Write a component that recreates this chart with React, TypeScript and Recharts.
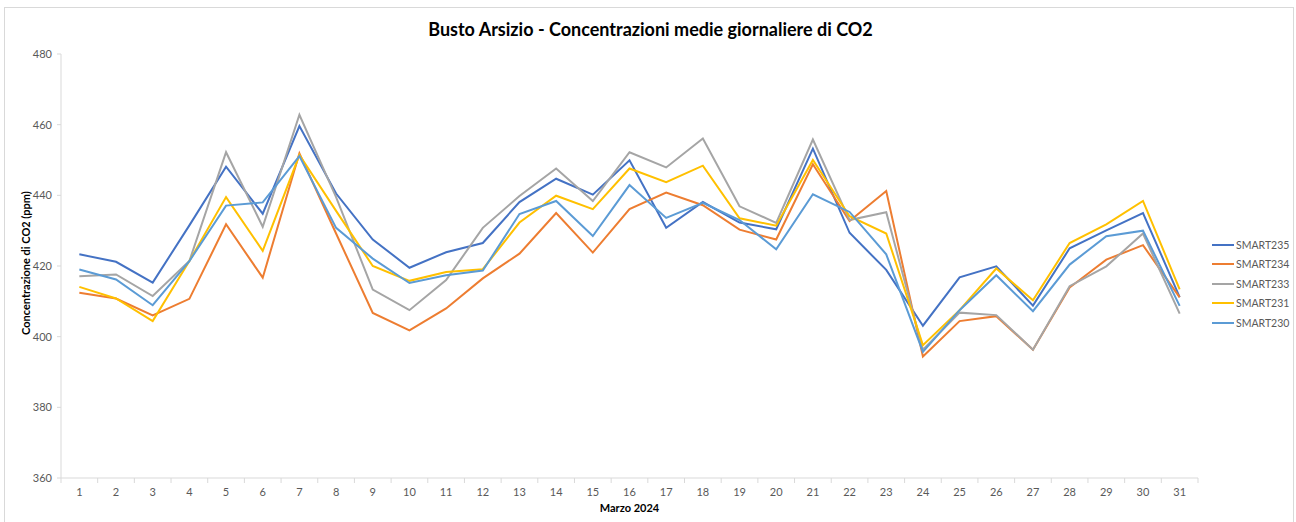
import React from 'react';
import { LineChart, Line, XAxis, YAxis } from 'recharts';

// Giorni di marzo 2024
const DAYS = [
  1, 2, 3, 4, 5, 6, 7, 8, 9, 10, 11, 12, 13, 14, 15, 16,
  17, 18, 19, 20, 21, 22, 23, 24, 25, 26, 27, 28, 29, 30, 31,
];

// Concentrazioni medie giornaliere (ppm)
const SMART235 = [
  423.3, 421.2, 415.3, 431.5, 448.1, 434.8, 459.6, 440.5, 427.5, 419.5, 423.9,
  426.5, 438.1, 444.7, 440.2, 449.9, 430.8, 438.1, 432.3, 430.4, 453.2, 429.4,
  418.9, 403.1, 416.8, 419.9, 408.8, 425.0, 430.1, 435.0, 411.2,
];
const SMART234 = [
  412.4, 410.8, 406.0, 410.7, 431.8, 416.7, 451.9, 429.2, 406.7, 401.8, 408.0,
  416.5, 423.5, 435.0, 423.8, 436.1, 440.8, 437.2, 430.3, 427.5, 448.8, 432.7,
  441.2, 394.4, 404.4, 405.8, 396.3, 413.9, 421.8, 425.9, 411.1,
];
const SMART233 = [
  417.1, 417.6, 411.5, 421.4, 452.2, 431.1, 462.8, 439.5, 413.3, 407.5, 416.0,
  430.8, 439.8, 447.6, 438.4, 452.2, 447.9, 456.1, 436.9, 432.2, 455.8, 433.0,
  435.2, 396.3, 406.8, 406.1, 396.3, 414.3, 419.9, 429.2, 406.5,
];
const SMART231 = [
  414.1, 410.8, 404.4, 421.4, 439.5, 424.3, 451.4, 435.6, 420.0, 415.8, 418.3,
  419.1, 432.3, 439.9, 436.1, 447.6, 443.7, 448.4, 433.5, 431.4, 450.0, 434.1,
  429.2, 397.6, 407.5, 419.3, 410.3, 426.5, 431.8, 438.4, 413.4,
];
const SMART230 = [
  419.0, 416.2, 408.9, 421.4, 437.1, 438.0, 451.1, 430.8, 422.1, 415.2, 417.4,
  418.7, 434.7, 438.4, 428.5, 442.9, 433.6, 437.9, 433.0, 424.7, 440.3, 435.3,
  423.3, 395.7, 407.5, 417.4, 407.2, 420.4, 428.4, 430.0, 408.7,
];

const Y_TICKS = [360, 380, 400, 420, 440, 460, 480];

const SERIES = [
  { key: 'SMART235', color: '#4472C4', values: SMART235 },
  { key: 'SMART234', color: '#ED7D31', values: SMART234 },
  { key: 'SMART233', color: '#A5A5A5', values: SMART233 },
  { key: 'SMART231', color: '#FFC000', values: SMART231 },
  { key: 'SMART230', color: '#5B9BD5', values: SMART230 },
];

const data = DAYS.map((day, i) => {
  const row: { [key: string]: number } = { day };
  SERIES.forEach((s) => {
    row[s.key] = s.values[i];
  });
  return row;
});

const FONT = 'Lato, "Open Sans", sans-serif';
const AXIS_COLOR = '#d9d9d9';
const TEXT_COLOR = '#595959';

const CHART_W = 1296;
const CHART_H = 522;
const MARGIN = { top: 54, right: 98, bottom: 0, left: 0 };
const Y_AXIS_W = 61;
// half of one category band, for Excel-style ticks between the days
const HALF_BAND = (CHART_W - MARGIN.right - Y_AXIS_W) / DAYS.length / 2;

const DayTick = (props: any) => {
  const { x, y, payload, index } = props;
  const last = index === DAYS.length - 1;
  return (
    <g>
      <line x1={x - HALF_BAND} y1={y} x2={x - HALF_BAND} y2={y + 5} stroke={AXIS_COLOR} />
      {last && <line x1={x + HALF_BAND} y1={y} x2={x + HALF_BAND} y2={y + 5} stroke={AXIS_COLOR} />}
      <text x={x} y={y + 18} textAnchor="middle" fontSize={11} fill={TEXT_COLOR} fontFamily={FONT}>
        {payload.value}
      </text>
    </g>
  );
};

export default function App() {
  return (
    <div style={{ position: 'absolute', left: 0, top: 0, width: CHART_W, height: CHART_H, overflow: 'hidden', background: '#fff', fontFamily: FONT }}>
      {/* chart frame */}
      <div style={{ position: 'absolute', left: 4, top: 7, width: 1288, height: 530, border: `1px solid ${AXIS_COLOR}` }} />

      <div style={{ position: 'absolute', left: 0, top: 19, width: 1301, textAlign: 'center', fontSize: 18, fontWeight: 700, color: '#000', lineHeight: '20px' }}>
        Busto Arsizio - Concentrazioni medie giornaliere di CO2
      </div>

      <div style={{ position: 'absolute', left: 25, top: 263, transform: 'translate(-50%, -50%) rotate(-90deg)', whiteSpace: 'nowrap', fontSize: 11, fontWeight: 700, color: '#000' }}>
        Concentrazione di CO2 (ppm)
      </div>

      <div style={{ position: 'absolute', left: 61, top: 501, width: 1137, textAlign: 'center', fontSize: 11, fontWeight: 700, color: '#000', lineHeight: '14px' }}>
        Marzo 2024
      </div>

      {/* legend */}
      <div style={{ position: 'absolute', left: 1212, top: 235, fontSize: 10.5, color: TEXT_COLOR }}>
        {SERIES.map((s) => (
          <div key={s.key} style={{ display: 'flex', alignItems: 'center', height: 19.5 }}>
            <span style={{ display: 'inline-block', width: 22, borderTop: `2px solid ${s.color}`, marginRight: 2 }} />
            <span>{s.key}</span>
          </div>
        ))}
      </div>

      <div style={{ position: 'absolute', left: 0, top: 0 }}>
        <LineChart width={CHART_W} height={CHART_H} data={data} margin={MARGIN}>
          <XAxis
            dataKey="day"
            type="number"
            domain={[0.5, DAYS.length + 0.5]}
            ticks={DAYS}
            interval={0}
            tick={<DayTick />}
            tickLine={false}
            tickSize={0}
            tickMargin={0}
            axisLine={{ stroke: AXIS_COLOR }}
            height={44}
          />
          <YAxis
            domain={[360, 480]}
            ticks={Y_TICKS}
            interval={0}
            width={Y_AXIS_W}
            axisLine={{ stroke: AXIS_COLOR }}
            tickLine={{ stroke: AXIS_COLOR }}
            tickSize={4}
            tickMargin={5}
            tick={{ fontSize: 11, fill: TEXT_COLOR, fontFamily: FONT }}
          />
          {SERIES.map((s) => (
            <Line
              key={s.key}
              type="linear"
              dataKey={s.key}
              stroke={s.color}
              strokeWidth={2}
              dot={false}
              activeDot={false}
              isAnimationActive={false}
            />
          ))}
        </LineChart>
      </div>
    </div>
  );
}
